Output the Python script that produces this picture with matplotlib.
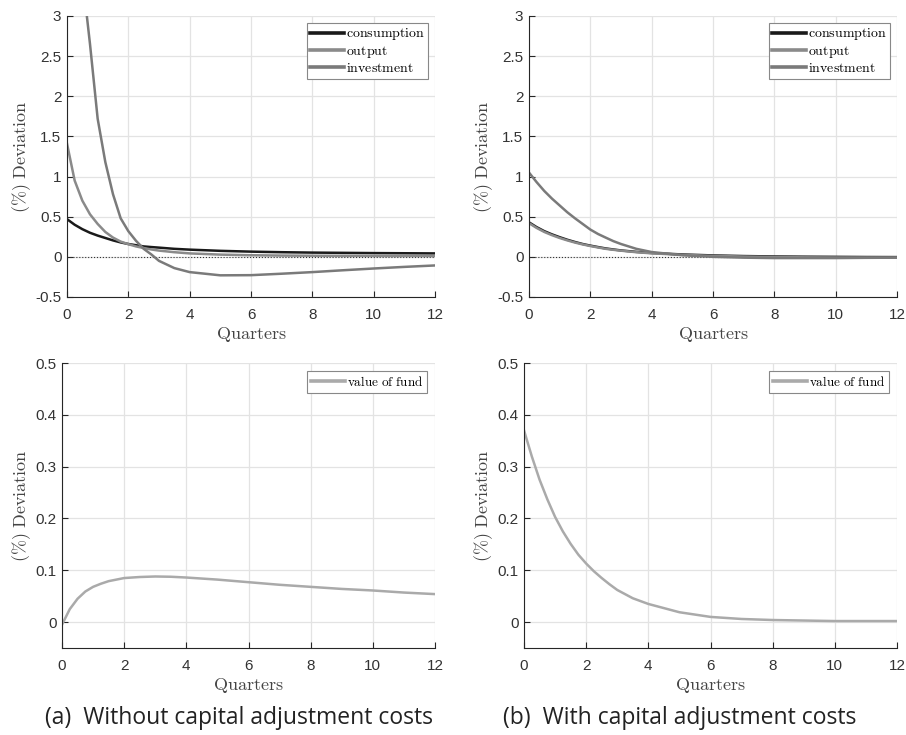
import matplotlib
matplotlib.use('Agg')
import matplotlib.pyplot as plt

plt.rcParams['mathtext.fontset'] = 'cm'
plt.rcParams['font.family'] = ['Liberation Sans', 'DejaVu Sans']

# quarters grid (shared by all series)
quarters = [0, 0.25, 0.5, 0.75, 1, 1.25, 1.5, 1.75, 2, 2.25, 2.5, 2.75, 3, 3.5, 4,
            5, 6, 7, 8, 9, 10, 11, 12]

# (a) without capital adjustment costs
cons_a = [0.47, 0.40, 0.345, 0.30, 0.265, 0.235, 0.205, 0.18, 0.16, 0.145, 0.13, 0.122, 0.115, 0.10, 0.09,
          0.075, 0.065, 0.058, 0.053, 0.05, 0.047, 0.045, 0.043]
output_a = [1.41, 0.95, 0.70, 0.53, 0.41, 0.31, 0.24, 0.19, 0.158, 0.13, 0.11, 0.092, 0.078, 0.058, 0.043,
            0.028, 0.02, 0.016, 0.014, 0.013, 0.012, 0.011, 0.011]
invest_a = [6.5, 4.8, 3.5, 2.65, 1.72, 1.18, 0.78, 0.48, 0.32, 0.2, 0.10, 0.03, -0.05, -0.14, -0.19,
            -0.23, -0.228, -0.21, -0.19, -0.167, -0.145, -0.125, -0.107]
fund_a = [-0.005, 0.025, 0.045, 0.059, 0.068, 0.074, 0.079, 0.082, 0.085, 0.086, 0.087, 0.0875, 0.088, 0.0875, 0.086,
          0.082, 0.077, 0.072, 0.068, 0.064, 0.061, 0.057, 0.054]

# (b) with capital adjustment costs
cons_b = [0.43, 0.37, 0.32, 0.28, 0.245, 0.213, 0.185, 0.16, 0.14, 0.122, 0.105, 0.092, 0.08, 0.062, 0.048,
          0.03, 0.018, 0.01, 0.005, 0.002, 0.0, -0.002, -0.003]
output_b = [0.42, 0.36, 0.31, 0.27, 0.235, 0.205, 0.178, 0.155, 0.135, 0.117, 0.10, 0.088, 0.077, 0.058, 0.044,
            0.025, 0.012, 0.004, -0.002, -0.006, -0.008, -0.009, -0.01]
invest_b = [1.05, 0.93, 0.82, 0.725, 0.64, 0.555, 0.48, 0.41, 0.34, 0.285, 0.24, 0.196, 0.16, 0.10, 0.06,
            0.02, 0.0, -0.01, -0.015, -0.015, -0.015, -0.012, -0.01]
fund_b = [0.37, 0.32, 0.275, 0.237, 0.203, 0.175, 0.151, 0.13, 0.113, 0.098, 0.085, 0.073, 0.062, 0.046, 0.035,
          0.019, 0.01, 0.006, 0.004, 0.003, 0.002, 0.002, 0.002]

captions = ['(a)  Without capital adjustment costs', '(b)  With capital adjustment costs']

W, H = 906, 735
fig = plt.figure(figsize=(W / 100, H / 100), dpi=100)


def box(x0, x1, ytop, ybot):
    return [x0 / W, 1 - ybot / H, (x1 - x0) / W, (ybot - ytop) / H]


def style(ax, ylim, yticks, yfmt):
    ax.set_xlim(0, 12)
    ax.set_ylim(*ylim)
    ax.set_xticks(range(0, 13, 2))
    ax.set_yticks(yticks)
    ax.set_yticklabels([yfmt(v) for v in yticks])
    ax.grid(True, color='#e3e3e3', linewidth=0.9)
    ax.set_axisbelow(True)
    for s in ['top', 'right']:
        ax.spines[s].set_visible(False)
    for s in ['left', 'bottom']:
        ax.spines[s].set_color('#262626')
        ax.spines[s].set_linewidth(0.8)
    ax.tick_params(direction='in', length=4, width=0.8, colors='#262626',
                   labelsize=11, labelcolor='#333333')
    ax.tick_params(axis='x', pad=8)
    ax.tick_params(axis='y', pad=4)
    ax.set_xlabel(r'$\mathrm{Quarters}$', fontsize=13, color='#444444', labelpad=2)
    ax.set_ylabel(r'$\mathrm{(\%)\ Deviation}$', fontsize=13, color='#444444', labelpad=2)


def fmt_top(v):
    return ('%g' % v)


def fmt_bot(v):
    return '0' if v == 0 else ('%.1f' % v)


tops = [box(67, 435, 16, 297), box(529, 897, 16, 297)]
bots = [box(62, 435, 363, 648), box(524, 897, 363, 648)]
top_data = [(cons_a, output_a, invest_a), (cons_b, output_b, invest_b)]
fund_data = [fund_a, fund_b]

for i in range(2):
    ax = fig.add_axes(tops[i])
    c, o, inv = top_data[i]
    ax.plot([0, 12], [0, 0], color='#333333', linestyle=':', linewidth=0.8)
    ax.plot(quarters, c, color='#1a1a1a', linewidth=1.8, label=r'$\mathrm{consumption}$')
    ax.plot(quarters, o, color='#8a8a8a', linewidth=1.8, label=r'$\mathrm{output}$')
    ax.plot(quarters, inv, color='#7a7a7a', linewidth=1.8, label=r'$\mathrm{investment}$')
    style(ax, (-0.5, 3), [-0.5, 0, 0.5, 1, 1.5, 2, 2.5, 3], fmt_top)
    leg = ax.legend(loc='upper right', fontsize=10, handlelength=2.4, handletextpad=0.15,
                    borderpad=0.25, labelspacing=0.1, fancybox=False, framealpha=1,
                    borderaxespad=0.5)
    leg.get_frame().set_edgecolor('#888888')
    leg.get_frame().set_linewidth(0.8)
    for ln in leg.get_lines():
        ln.set_linewidth(2.6)

    ax = fig.add_axes(bots[i])
    ax.plot(quarters, fund_data[i], color='#aaaaaa', linewidth=1.8, label=r'$\mathrm{value\ of\ fund}$')
    style(ax, (-0.05, 0.5), [0, 0.1, 0.2, 0.3, 0.4, 0.5], fmt_bot)
    leg = ax.legend(loc='upper right', fontsize=9.5, handlelength=2.6, handletextpad=0.15,
                    borderpad=0.3, fancybox=False, framealpha=1, borderaxespad=0.6)
    leg.get_frame().set_edgecolor('#888888')
    leg.get_frame().set_linewidth(0.8)
    for ln in leg.get_lines():
        ln.set_linewidth(2.6)

fig.text(239 / W, 1 - 718 / H, captions[0], ha='center', va='center', fontsize=16.5,
         family=['Open Sans', 'DejaVu Sans'], color='#222222')
fig.text(680 / W, 1 - 718 / H, captions[1], ha='center', va='center', fontsize=16.5,
         family=['Open Sans', 'DejaVu Sans'], color='#222222')

fig.savefig('out.png', dpi=100)
